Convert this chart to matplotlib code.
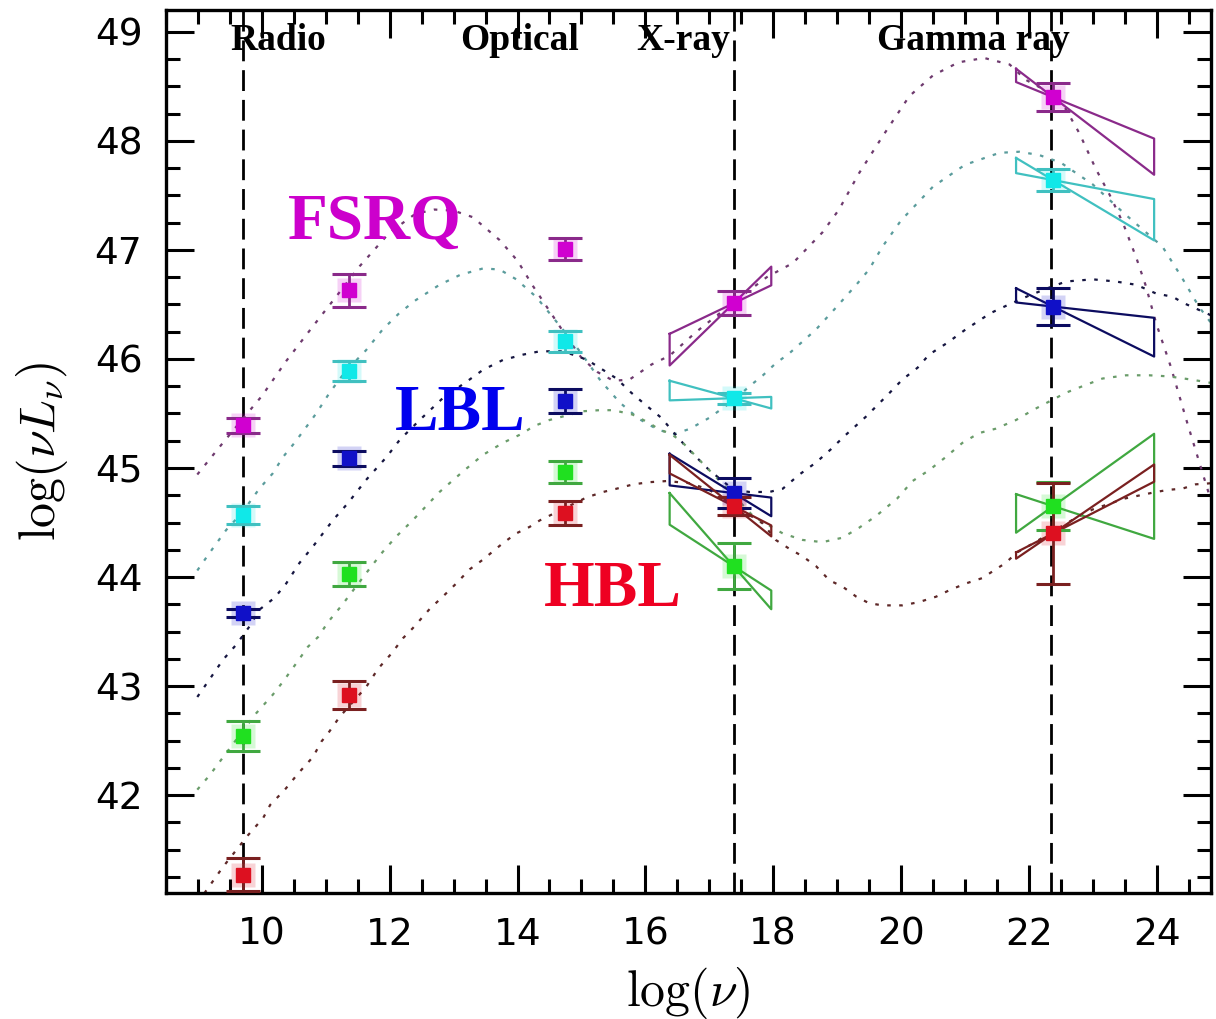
import matplotlib
matplotlib.use("Agg")
import matplotlib.pyplot as plt
from matplotlib.ticker import MultipleLocator
import numpy as np

plt.rcParams["mathtext.fontset"] = "cm"

# Frequencies (log nu) of the averaged SED points: 5 GHz, 230 GHz, V band, 1 keV, 100 MeV
nu_points = [9.70, 11.36, 14.74, 17.38, 22.38]

# Averaged luminosities per radio-luminosity bin (brightest first) and their errors
bin1_L = [45.39, 46.63, 47.01, 46.51, 48.40]
bin1_err = [0.07, 0.15, 0.10, 0.11, 0.13]
bin2_L = [44.57, 45.89, 46.16, 45.64, 47.64]
bin2_err = [0.08, 0.09, 0.10, 0.05, 0.10]
bin3_L = [43.67, 45.09, 45.61, 44.77, 46.48]
bin3_err = [0.04, 0.07, 0.11, 0.14, 0.17]
bin4_L = [42.54, 44.03, 44.96, 44.10, 44.65]
bin4_err = [0.14, 0.11, 0.10, 0.21, 0.22]
bin5_L = [41.27, 42.92, 44.59, 44.65, 44.40]
bin5_err = [0.15, 0.13, 0.11, 0.08, 0.46]

# Spectral slope ranges (in nu L_nu) for the X-ray and gamma-ray bow ties
xray_band = [16.38, 17.97]
gamma_band = [21.80, 23.96]
bin1_xslopes = [0.28, 0.57]
bin2_xslopes = [-0.16, 0.02]
bin3_xslopes = [-0.36, -0.07]
bin4_xslopes = [-0.67, -0.38]
bin5_xslopes = [-0.47, -0.30]
bin1_gslopes = [-0.45, -0.24]
bin2_gslopes = [-0.35, -0.11]
bin3_gslopes = [-0.29, -0.065]
bin4_gslopes = [-0.19, 0.42]
bin5_gslopes = [0.30, 0.40]

# Parametric model SEDs for each bin
bin1_curve_x = [8.99, 9.39, 9.70, 10.00, 10.38, 10.80, 11.20, 11.53, 12.00, 12.40, 12.70, 13.00,
                13.30, 13.72, 14.00, 14.24, 14.50, 14.75, 15.00, 15.25, 15.50, 15.75, 16.10,
                16.38, 16.80, 17.38, 17.90, 18.31, 18.77, 19.03, 19.34, 19.71, 20.13, 20.50,
                20.90, 21.30, 21.70, 21.95, 22.30, 22.58, 22.79, 23.05, 23.26, 23.47, 23.68,
                23.83, 23.99, 24.22, 24.48, 24.72, 24.85]
bin1_curve_y = [44.94, 45.23, 45.45, 45.66, 45.98, 46.30, 46.60, 46.85, 47.16, 47.33, 47.37, 47.36,
                47.30, 47.09, 46.90, 46.67, 46.44, 46.22, 46.01, 45.88, 45.80, 45.81, 45.95,
                46.03, 46.25, 46.52, 46.75, 46.88, 47.16, 47.37, 47.70, 48.04, 48.41, 48.60,
                48.72, 48.76, 48.70, 48.56, 48.45, 48.29, 48.07, 47.74, 47.51, 47.25, 46.93,
                46.67, 46.33, 45.93, 45.41, 44.95, 44.70]
bin2_curve_x = [8.99, 9.18, 9.44, 9.69, 9.96, 10.17, 10.33, 10.51, 10.70, 10.85, 11.06, 11.30,
                11.63, 11.89, 12.15, 12.41, 12.78, 13.10, 13.46, 13.72, 13.98, 14.29, 14.50,
                14.75, 15.00, 15.30, 15.60, 15.90, 16.20, 16.45, 16.70, 17.00, 17.38, 17.63,
                17.84, 18.04, 18.25, 18.67, 18.95, 19.30, 19.50, 19.71, 20.00, 20.50, 21.00,
                21.54, 21.85, 22.16, 22.50, 23.00, 23.50, 24.09, 24.38, 24.66, 24.85]
bin2_curve_y = [44.06, 44.22, 44.43, 44.59, 44.81, 44.95, 45.10, 45.23, 45.38, 45.50, 45.69, 45.88,
                46.08, 46.27, 46.42, 46.54, 46.68, 46.77, 46.83, 46.82, 46.73, 46.57, 46.42,
                46.24, 46.05, 45.80, 45.60, 45.45, 45.35, 45.31, 45.36, 45.46, 45.62, 45.75,
                45.85, 45.96, 46.05, 46.27, 46.45, 46.68, 46.82, 47.03, 47.27, 47.58, 47.78,
                47.89, 47.90, 47.87, 47.80, 47.60, 47.33, 47.03, 46.76, 46.48, 46.33]
bin3_curve_x = [8.99, 9.18, 9.39, 9.60, 9.81, 9.96, 10.20, 10.38, 10.59, 10.80, 11.11, 11.35,
                11.63, 11.95, 12.16, 12.47, 12.83, 13.20, 13.46, 13.77, 14.09, 14.35, 14.70,
                14.97, 15.12, 15.39, 15.55, 15.78, 16.00, 16.25, 16.48, 16.66, 17.00, 17.38,
                17.63, 17.94, 18.15, 18.41, 18.67, 18.90, 19.11, 19.45, 19.79, 20.02, 20.26,
                20.44, 20.73, 21.01, 21.40, 21.69, 22.00, 22.30, 22.58, 23.00, 23.36, 23.68,
                23.99, 24.25, 24.43, 24.66, 24.85]
bin3_curve_y = [42.90, 43.06, 43.24, 43.38, 43.55, 43.70, 43.81, 43.94, 44.13, 44.28, 44.52, 44.68,
                44.89, 45.10, 45.26, 45.44, 45.64, 45.79, 45.90, 45.99, 46.04, 46.07, 46.07,
                46.02, 45.98, 45.88, 45.82, 45.69, 45.58, 45.46, 45.30, 45.18, 44.98, 44.80,
                44.78, 44.78, 44.81, 44.94, 45.05, 45.17, 45.29, 45.47, 45.67, 45.81, 45.92,
                46.04, 46.15, 46.27, 46.42, 46.50, 46.58, 46.65, 46.71, 46.73, 46.71, 46.68,
                46.60, 46.57, 46.51, 46.45, 46.40]
bin4_curve_x = [8.99, 9.18, 9.55, 9.91, 10.17, 10.33, 10.54, 10.72, 10.88, 11.04, 11.25, 11.69,
                11.89, 12.10, 12.36, 12.57, 12.78, 13.15, 13.46, 13.77, 14.09, 14.24, 14.50,
                15.02, 15.28, 15.50, 15.80, 16.07, 16.22, 16.38, 16.53, 16.64, 16.90, 17.00,
                17.38, 17.70, 18.15, 18.46, 18.77, 19.08, 19.34, 19.61, 19.94, 20.18, 20.44,
                20.70, 20.96, 21.22, 21.48, 21.80, 22.06, 22.32, 22.58, 22.84, 23.15, 23.52,
                23.88, 24.19, 24.55, 24.85]
bin4_curve_y = [42.05, 42.18, 42.47, 42.75, 42.92, 43.04, 43.21, 43.36, 43.45, 43.59, 43.74, 44.08,
                44.23, 44.37, 44.52, 44.65, 44.78, 44.97, 45.12, 45.23, 45.32, 45.38, 45.44,
                45.52, 45.53, 45.53, 45.49, 45.41, 45.35, 45.32, 45.26, 45.20, 45.04, 44.98,
                44.75, 44.55, 44.40, 44.34, 44.32, 44.36, 44.45, 44.56, 44.72, 44.88, 44.98,
                45.10, 45.23, 45.32, 45.36, 45.44, 45.53, 45.61, 45.69, 45.75, 45.82, 45.85,
                45.85, 45.84, 45.81, 45.78]
bin5_curve_x = [9.10, 9.39, 9.78, 10.02, 10.13, 10.36, 10.57, 10.80, 10.93, 11.04, 11.22, 11.63,
                11.82, 12.03, 12.21, 12.36, 12.63, 12.83, 13.04, 13.25, 13.46, 13.77, 13.98,
                14.19, 14.35, 14.70, 15.08, 15.34, 15.55, 15.81, 16.07, 16.33, 16.70, 17.00,
                17.38, 17.68, 17.84, 18.04, 18.25, 18.46, 18.67, 18.88, 19.09, 19.30, 19.50,
                19.71, 20.02, 20.28, 20.55, 20.76, 21.01, 21.27, 21.48, 21.64, 21.80, 22.10,
                22.38, 22.70, 23.00, 23.50, 23.99, 24.19, 24.40, 24.61, 24.85]
bin5_curve_y = [41.10, 41.34, 41.63, 41.79, 41.91, 42.05, 42.20, 42.35, 42.49, 42.57, 42.72, 42.99,
                43.16, 43.30, 43.44, 43.53, 43.71, 43.82, 43.94, 44.07, 44.16, 44.31, 44.40,
                44.46, 44.52, 44.62, 44.73, 44.78, 44.81, 44.85, 44.87, 44.88, 44.86, 44.80,
                44.65, 44.55, 44.49, 44.34, 44.26, 44.19, 44.10, 43.97, 43.91, 43.82, 43.76,
                43.74, 43.74, 43.77, 43.82, 43.88, 43.94, 43.99, 44.07, 44.13, 44.22, 44.32,
                44.42, 44.53, 44.62, 44.72, 44.78, 44.80, 44.81, 44.85, 44.86]

band_names = ["Radio", "Optical", "X-ray", "Gamma ray"]
band_label_x = [9.50, 13.10, 15.86, 19.63]
band_lines = [9.70, 17.38, 22.35]

class_names = ["FSRQ", "LBL", "HBL"]
class_label_x = [10.41, 12.08, 14.42]
class_label_y = [47.10, 45.35, 43.73]
class_colors = ["#cc00cc", "#0000ee", "#ee0022"]

bins = [
    dict(L=bin1_L, err=bin1_err, xs=bin1_xslopes, gs=bin1_gslopes, cx=bin1_curve_x, cy=bin1_curve_y,
         face="#d000d0", dark="#8a2a8a", curve="#6e3a6e"),
    dict(L=bin2_L, err=bin2_err, xs=bin2_xslopes, gs=bin2_gslopes, cx=bin2_curve_x, cy=bin2_curve_y,
         face="#10e8e8", dark="#40c0c0", curve="#5a9c9c"),
    dict(L=bin3_L, err=bin3_err, xs=bin3_xslopes, gs=bin3_gslopes, cx=bin3_curve_x, cy=bin3_curve_y,
         face="#1010c8", dark="#0c0c60", curve="#151540"),
    dict(L=bin4_L, err=bin4_err, xs=bin4_xslopes, gs=bin4_gslopes, cx=bin4_curve_x, cy=bin4_curve_y,
         face="#20e020", dark="#40a840", curve="#6a9c6a"),
    dict(L=bin5_L, err=bin5_err, xs=bin5_xslopes, gs=bin5_gslopes, cx=bin5_curve_x, cy=bin5_curve_y,
         face="#dd1020", dark="#7a2020", curve="#5e2828"),
]

fig = plt.figure(figsize=(12.16, 10.19), dpi=100)
ax = fig.add_axes([0.1365, 0.1234, 0.8594, 0.8668])
ax.set_xlim(8.5, 24.85)
ax.set_ylim(41.1, 49.2)

# Band markers
for xv in band_lines:
    ax.axvline(xv, color="black", lw=2.0, dashes=(7.5, 3.2), zorder=1)


def bowtie(ax, x_pivot, y_pivot, band, slopes, color):
    x0, x1 = band
    s_lo, s_hi = slopes
    xs = [x0, x1, x1, x0, x0]
    ys = [y_pivot + s_lo * (x0 - x_pivot), y_pivot + s_lo * (x1 - x_pivot),
          y_pivot + s_hi * (x1 - x_pivot), y_pivot + s_hi * (x0 - x_pivot),
          y_pivot + s_lo * (x0 - x_pivot)]
    ax.plot(xs, ys, color=color, lw=1.6, zorder=4)


for b in bins:
    ax.plot(b["cx"], b["cy"], color=b["curve"], lw=1.6, dashes=(1.6, 3.8), zorder=2)

for b in bins:
    bowtie(ax, nu_points[3], b["L"][3], xray_band, b["xs"], b["dark"])
    bowtie(ax, nu_points[4], b["L"][4], gamma_band, b["gs"], b["dark"])

for b in bins:
    # soft halo around the points
    ax.plot(nu_points, b["L"], ls="none", marker="s", ms=17, mfc=b["face"], mec="none",
            alpha=0.18, zorder=5)
    ax.errorbar(nu_points, b["L"], yerr=b["err"], fmt="s", ms=10, mfc=b["face"], mec=b["face"],
                ecolor=b["dark"], elinewidth=2.0, capsize=12, capthick=2.2, zorder=6)

for name, xv in zip(band_names, band_label_x):
    ax.text(xv, 48.83, name, family="Liberation Serif", fontweight="bold", fontsize=27,
            ha="left", va="baseline", zorder=8)

for name, xv, yv, c in zip(class_names, class_label_x, class_label_y, class_colors):
    ax.text(xv, yv, name, family="Liberation Serif", fontweight="bold", fontsize=47,
            color=c, ha="left", va="baseline", zorder=8)

ax.xaxis.set_major_locator(MultipleLocator(2))
ax.xaxis.set_minor_locator(MultipleLocator(0.5))
ax.yaxis.set_major_locator(MultipleLocator(1))
ax.yaxis.set_minor_locator(MultipleLocator(0.25))
ax.tick_params(which="both", direction="in", top=True, right=True, width=2.2, color="black")
ax.tick_params(which="major", length=20, labelsize=27, pad=17)
ax.tick_params(which="minor", length=10)
for sp in ax.spines.values():
    sp.set_linewidth(2.4)

ax.set_xlabel(r"$\log(\nu)$", fontsize=36, labelpad=9)
ax.set_ylabel(r"$\log(\nu L_\nu)$", fontsize=36, labelpad=18)

fig.savefig("out.png", dpi=100, facecolor="white")
